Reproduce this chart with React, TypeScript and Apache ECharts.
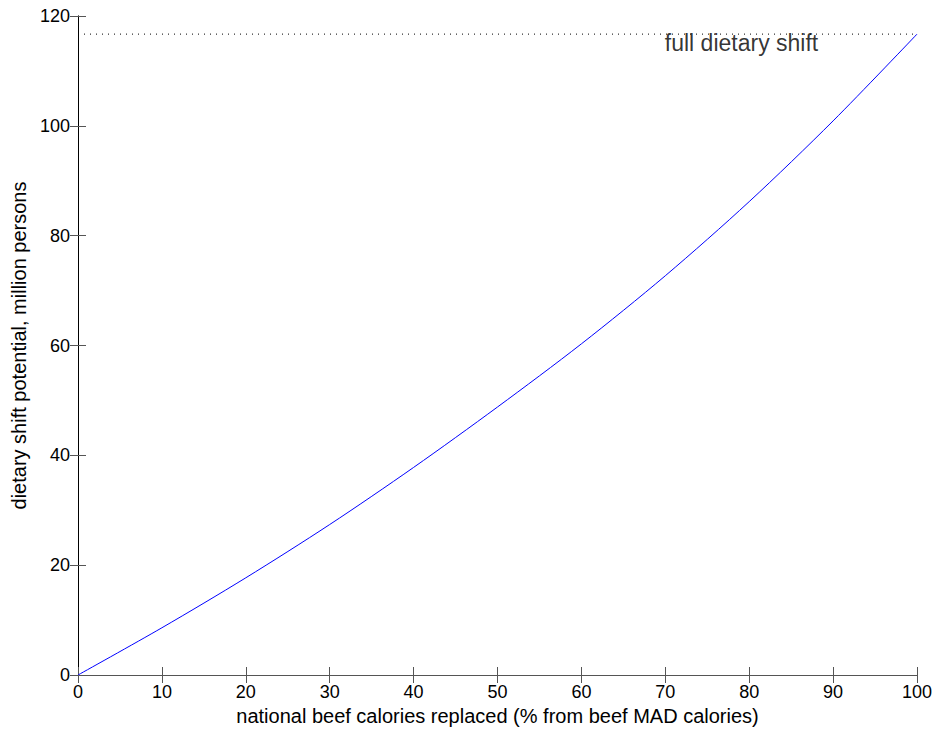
import React, { useEffect, useRef } from "react";
import * as echarts from "echarts";

const xValues = [0, 10, 20, 30, 40, 50, 60, 70, 80, 90, 100];
const shiftPotential = [0, 8.6, 17.7, 27.4, 37.8, 48.8, 60.3, 72.7, 86.2, 100.9, 116.7];
const fullShiftValue = 116.7;
const fullShiftLabel = "full dietary shift";
const fullShiftLabelX = 70;
const xName = "national beef calories replaced (% from beef MAD calories)";
const yName = "dietary shift potential, million persons";

export default function App() {
  const ref = useRef<HTMLDivElement>(null);
  useEffect(() => {
    if (!ref.current) return;
    const chart = echarts.init(ref.current, null, { renderer: "svg" });
    const font = "Liberation Sans, Arial, sans-serif";
    const grayLine = { show: true, lineStyle: { color: "#555", width: 1 } };
    const blackLine = { show: true, lineStyle: { color: "#000", width: 1 } };
    const tick = { show: true, inside: true, length: 8, lineStyle: { color: "#555" } };
    chart.setOption({
      animation: false,
      backgroundColor: "#fff",
      grid: { left: 78, top: 16, right: 19, bottom: 53, containLabel: false },
      xAxis: [
        {
          type: "value",
          min: 0,
          max: 100,
          interval: 10,
          name: xName,
          nameLocation: "middle",
          nameGap: 31,
          nameTextStyle: { fontFamily: font, fontSize: 20, color: "#000" },
          axisLine: grayLine,
          axisTick: tick,
          axisLabel: { fontFamily: font, fontSize: 18, color: "#000", margin: 8 },
          splitLine: { show: false },
        },
        {
          type: "value",
          min: 0,
          max: 100,
          interval: 10,
          position: "top",
          axisLine: grayLine,
          axisTick: tick,
          axisLabel: { show: false },
          splitLine: { show: false },
        },
      ],
      yAxis: [
        {
          type: "value",
          min: 0,
          max: 120,
          interval: 20,
          name: yName,
          nameLocation: "middle",
          nameGap: 46,
          nameTextStyle: { fontFamily: font, fontSize: 20, color: "#000" },
          axisLine: grayLine,
          axisTick: tick,
          axisLabel: { fontFamily: font, fontSize: 18, color: "#000", margin: 8 },
          splitLine: { show: false },
        },
        {
          type: "value",
          min: 0,
          max: 120,
          interval: 20,
          position: "right",
          axisLine: blackLine,
          axisTick: tick,
          axisLabel: { show: false },
          splitLine: { show: false },
        },
      ],
      series: [
        {
          type: "line",
          data: xValues.map((x, i) => [x, shiftPotential[i]]),
          smooth: 0.3,
          showSymbol: false,
          lineStyle: { color: "#0000ff", width: 1 },
        },
        {
          type: "line",
          data: [
            [0, fullShiftValue],
            [100, fullShiftValue],
          ],
          showSymbol: false,
          lineStyle: { color: "#000", width: 1, type: [1, 5] },
        },
        {
          type: "scatter",
          data: [[fullShiftLabelX, fullShiftValue]],
          symbolSize: 1,
          itemStyle: { color: "rgba(0,0,0,0)" },
          label: {
            show: true,
            formatter: fullShiftLabel,
            position: [0, -2],
            align: "left",
            verticalAlign: "top",
            fontFamily: font,
            fontSize: 23,
            color: "#000",
          },
        },
      ],
    });
    return () => chart.dispose();
  }, []);
  return (
    <div
      ref={ref}
      style={{ position: "fixed", left: 0, top: 0, width: 936, height: 731, background: "#fff" }}
    />
  );
}
